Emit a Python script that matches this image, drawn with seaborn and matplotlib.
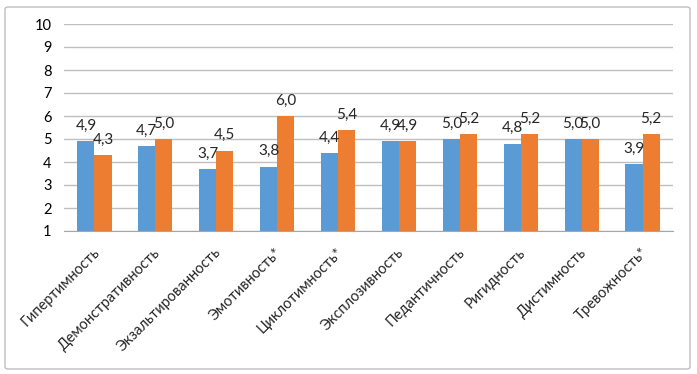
import matplotlib
matplotlib.use("Agg")
import matplotlib.pyplot as plt
import matplotlib.patches as mpatches
import matplotlib.transforms as mtrans
import seaborn as sns
import pandas as pd

categories = ["Гипертимность", "Демонстративность", "Экзальтированность", "Эмотивность*",
              "Циклотимность*", "Эксплозивность", "Педантичность", "Ригидность",
              "Дистимность", "Тревожность*"]
series_a = [4.9, 4.7, 3.7, 3.8, 4.4, 4.9, 5.0, 4.8, 5.0, 3.9]
series_b = [4.3, 5.0, 4.5, 6.0, 5.4, 4.9, 5.2, 5.2, 5.0, 5.2]
series_names = ["A", "B"]
yticks = list(range(1, 11))

df = pd.DataFrame({
    "cat": categories * 2,
    "val": series_a + series_b,
    "grp": [series_names[0]] * len(categories) + [series_names[1]] * len(categories),
})

sns.set_style("white")
plt.rcParams["font.family"] = ["Lato", "DejaVu Sans"]

fig = plt.figure(figsize=(6.97, 3.74), dpi=100)
ax = fig.add_axes([64/697, 1 - 231/374, (673-64)/697, (231-24)/374])

sns.barplot(data=df, x="cat", y="val", hue="grp", order=categories,
            palette=["#5B9BD5", "#ED7D31"], width=0.56, dodge=True,
            saturation=1, legend=False, ax=ax, errorbar=None, linewidth=0)

ax.set_ylim(1, 10)
ax.set_xlim(-0.5, len(categories) - 0.5)
ax.set_yticks(yticks)
ax.set_yticklabels([str(t) for t in yticks], fontsize=10.5, color="#000000")
ax.yaxis.grid(True, color="#BFBFBF", linewidth=1)
ax.set_axisbelow(True)
for s in ["left", "right", "top"]:
    ax.spines[s].set_visible(False)
ax.spines["bottom"].set_color("#A6A6A6")
ax.tick_params(axis="y", length=4, color="#BFBFBF", width=1, pad=5)

# x ticks between categories
ax.set_xticks([i for i in range(len(categories))])
ax.set_xticklabels([])
ax.set_xticks([i - 0.5 for i in range(len(categories) + 1)], minor=True)
ax.tick_params(axis="x", which="minor", length=4, color="#A6A6A6", width=1, direction="out")
ax.tick_params(axis="x", which="major", length=0)

offset = mtrans.ScaledTranslation(2/72, -14/72, fig.dpi_scale_trans)
for i, c in enumerate(categories):
    ax.text(i, 1, c, rotation=45, rotation_mode="anchor", ha="right", va="center",
            fontsize=10.5, transform=ax.transData + offset)

for cont in ax.containers:
    labels = [f"{v:.1f}".replace(".", ",") for v in cont.datavalues]
    ax.bar_label(cont, labels=labels, fontsize=11, padding=6)

ax.set_xlabel("")
ax.set_ylabel("")

border = mpatches.FancyBboxPatch((5/697, 5/374), 685/697, 362/374,
                                 boxstyle="round,pad=0,rounding_size=0.005",
                                 transform=fig.transFigure, fill=False,
                                 edgecolor="#BFBFBF", linewidth=1)
fig.patches.append(border)

fig.savefig("out.png", dpi=100)
